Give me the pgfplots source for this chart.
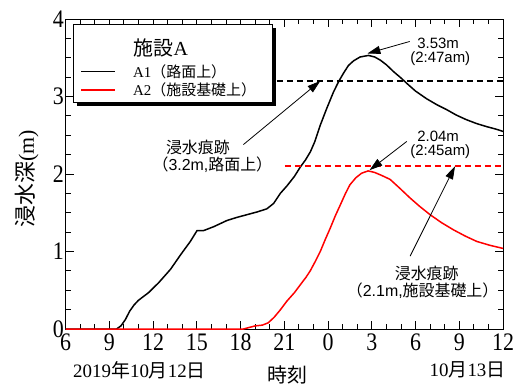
\documentclass[border=0pt]{standalone}
\usepackage{pgfplots}
\pgfplotsset{compat=1.18}
\usepackage{pgfplotstable}
\usepackage{fontspec}
\setmainfont{Liberation Serif}
\newfontfamily\jp{Noto Sans CJK JP}
\newfontfamily\arial{Liberation Sans}
\usetikzlibrary{arrows.meta}

\pgfplotstableread{
h v
6 0
9 0
9.5 0
9.8 0.04
10.1 0.12
10.4 0.23
10.7 0.31
11.0 0.37
11.7 0.47
12.4 0.60
13.2 0.77
13.9 0.96
14.56 1.13
15.02 1.27
15.47 1.27
16.16 1.32
17.07 1.40
17.75 1.44
18.44 1.475
19.13 1.51
19.8 1.55
20.27 1.62
20.73 1.75
21.2 1.85
21.7 1.97
22.1 2.09
22.45 2.18
22.8 2.29
23.1 2.42
23.47 2.63
23.9 2.84
24.38 3.06
24.75 3.20
25.06 3.30
25.4 3.40
25.75 3.46
26.2 3.51
26.78 3.53
27.2 3.51
27.58 3.47
28.0 3.41
28.5 3.32
29.0 3.24
29.4 3.17
30.0 3.07
30.77 2.97
31.5 2.89
32.14 2.83
32.8 2.76
33.5 2.70
34.2 2.65
34.9 2.61
35.5 2.58
36 2.55
}\blackdata

\pgfplotstableread{
h v
6 0
18.2 0
18.6 0.02
19.0 0.04
19.5 0.05
19.9 0.08
20.3 0.15
20.7 0.24
21.18 0.36
21.7 0.47
22.1 0.57
22.5 0.67
22.78 0.75
23.15 0.88
23.47 1.00
23.8 1.15
24.15 1.30
24.5 1.46
24.84 1.60
25.2 1.75
25.5 1.86
25.9 1.95
26.3 2.01
26.75 2.04
27.2 2.02
27.7 1.98
28.26 1.93
28.9 1.82
29.63 1.69
30.3 1.58
31.0 1.475
31.8 1.37
32.6 1.28
33.4 1.20
34.2 1.13
35.1 1.08
36 1.04
}\reddata

\tikzset{ann/.style={-{Triangle[length=13bp,width=8bp]}, line width=0.8bp, black}}

\begin{document}
\begin{tikzpicture}[x=1bp,y=1bp]
\path[use as bounding box] (0,0) rectangle (524,387);
\begin{axis}[
  at={(65.5bp,58bp)}, anchor=south west,
  scale only axis, width=437.5bp, height=310bp,
  xmin=6, xmax=36, ymin=0, ymax=4,
  xtick={6,9,12,15,18,21,24,27,30,33,36},
  xticklabels={6,9,12,15,18,21,0,3,6,9,12},
  minor x tick num=2,
  ytick={0,1,2,3,4}, minor y tick num=3,
  tick align=inside,
  major tick length=8bp, minor tick length=5bp,
  every tick/.style={black, line width=0.8bp},
  axis line style={line width=1bp},
  ticklabel style={font=\fontsize{22}{22}\selectfont, yscale=1.15},
  /pgf/number format/assume math mode=true,
  xticklabel style={yshift=-1bp},
  yticklabel style={inner sep=1.5bp},
]
\addplot[black, line width=1.5bp] table[x=h,y=v] {\blackdata};
\addplot[red, line width=1.5bp] table[x=h,y=v] {\reddata};
\addplot[black, line width=1.6bp, dash pattern=on 6bp off 4bp] coordinates {(20.5,3.2) (36,3.2)};
\addplot[red, line width=1.8bp, dash pattern=on 6bp off 4bp] coordinates {(21.05,2.1) (36,2.1)};

\draw[ann] (axis cs:29.6,3.71) -- (axis cs:26.7,3.555);
\node[inner sep=1bp, font=\arial\fontsize{15}{15}\selectfont] at (axis cs:31.55,3.69) {3.53m};
\node[inner sep=1bp, font=\arial\fontsize{15}{15}\selectfont] at (axis cs:31.7,3.49) {(2:47am)};

\draw[ann] (axis cs:29.4,2.42) -- (axis cs:26.85,2.05);
\node[inner sep=1bp, font=\arial\fontsize{15}{15}\selectfont] at (axis cs:31.55,2.48) {2.04m};
\node[inner sep=1bp, font=\arial\fontsize{15}{15}\selectfont] at (axis cs:31.7,2.29) {(2:45am)};

\draw[ann] (axis cs:18.2,2.38) -- (axis cs:23.47,3.2);
\node[inner sep=1bp, font=\fontsize{16}{16}\selectfont] at (axis cs:15.08,2.34) {\jp 浸水痕跡};
\node[inner sep=1bp, font=\fontsize{16}{16}\selectfont] at (axis cs:16.07,2.12) {{\jp （}{\arial 3.2m,}{\jp 路面上）}};

\draw[ann] (axis cs:29.63,0.94) -- (axis cs:32.71,2.1);
\node[inner sep=1bp, font=\fontsize{16}{16}\selectfont] at (axis cs:30.77,0.72) {\jp 浸水痕跡};
\node[inner sep=1bp, font=\fontsize{16}{16}\selectfont] at (axis cs:30.49,0.50) {{\jp （}{\arial 2.1m,}{\jp 施設基礎上）}};
\end{axis}

% legend
\fill[black] (77,281) rectangle (276,359);
\filldraw[fill=white, draw=black, line width=0.8bp] (73,285) rectangle (272,363);
\node[font=\fontsize{20}{20}\selectfont] at (161,339) {{\jp 施設}A};
\draw[black, line width=1.5bp] (81,315.3) -- (115,315.3);
\node[anchor=west, inner sep=0pt, font=\fontsize{15}{15}\selectfont] at (133,315.3) {A1{\jp （路面上）}};
\draw[red, line width=1.5bp] (81,297) -- (115,297);
\node[anchor=west, inner sep=0pt, font=\fontsize{15}{15}\selectfont] at (133,297) {A2{\jp （施設基礎上）}};

% axis labels
\node[font=\fontsize{19}{19}\selectfont] at (139.5,17) {2019{\jp 年}10{\jp 月}12{\jp 日}};
\node[font=\fontsize{19}{19}\selectfont] at (467.5,17) {10{\jp 月}13{\jp 日}};
\node[font=\fontsize{20}{20}\selectfont] at (287,12) {\jp 時刻};
\node[font=\fontsize{22}{22}\selectfont, rotate=90] at (27,208) {{\jp 浸水深}(m)};
\end{tikzpicture}
\end{document}
